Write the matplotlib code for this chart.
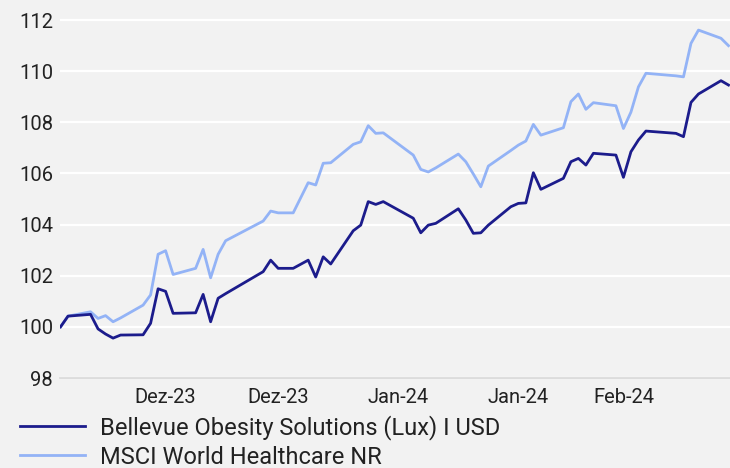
import matplotlib
matplotlib.use("Agg")
import matplotlib.pyplot as plt

# Schriftart
plt.rcParams['font.family'] = ['Roboto', 'DejaVu Sans']

# Daten: Tage seit 30.11.2023 (Handelstage)
days = [0, 1, 4, 5, 6, 7, 8, 11, 12, 13, 14, 15, 18, 19, 20, 21, 22, 27, 28, 29,
        31, 33, 34, 35, 36, 39, 40, 41, 42, 43, 47, 48, 49, 50, 53, 54, 55, 56, 57,
        60, 61, 62, 63, 64, 67, 68, 69, 70, 71, 74, 75, 76, 77, 78, 82, 83, 84, 85,
        88, 89]

fund = [100.0, 100.42, 100.49, 99.92, 99.72, 99.56, 99.68, 99.69, 100.14, 101.49,
        101.39, 100.53, 100.55, 101.27, 100.2, 101.12, 101.3, 102.16, 102.61, 102.29,
        102.29, 102.61, 101.95, 102.74, 102.46, 103.76, 103.98, 104.9, 104.79, 104.9,
        104.25, 103.68, 103.98, 104.05, 104.62, 104.18, 103.66, 103.68, 103.98,
        104.70, 104.83, 104.85, 106.03, 105.38, 105.81, 106.46, 106.59, 106.33, 106.79,
        106.72, 105.85, 106.85, 107.31, 107.66, 107.57, 107.44, 108.78, 109.11,
        109.63, 109.46]

index = [100.0, 100.42, 100.59, 100.33, 100.44, 100.2, 100.35, 100.85, 101.25, 102.84,
         102.98, 102.05, 102.29, 103.03, 101.92, 102.84, 103.37, 104.14, 104.53, 104.46,
         104.46, 105.64, 105.55, 106.4, 106.42, 107.14, 107.24, 107.87, 107.57, 107.59,
         106.72, 106.16, 106.06, 106.22, 106.76, 106.46, 105.98, 105.48, 106.29,
         106.9, 107.11, 107.27, 107.92, 107.5, 107.79, 108.81, 109.11, 108.51, 108.77,
         108.65, 107.76, 108.4, 109.39, 109.92, 109.82, 109.78, 111.09, 111.61,
         111.29, 111.0]

tick_days = [14, 29, 45, 61, 75]
tick_labels = ['Dez-23', 'Dez-23', 'Jan-24', 'Jan-24', 'Feb-24']
y_ticks = [98, 100, 102, 104, 106, 108, 110, 112]

bg = '#f2f2f2'
fig = plt.figure(figsize=(7.3, 4.68), dpi=100, facecolor=bg)
ax = fig.add_axes([60 / 730, 90 / 468, 1 - 60 / 730, (448 - 90 + 5) / 468])
ax.set_facecolor(bg)

ax.plot(days, fund, color='#1c1c8c', linewidth=2.0,
        label='Bellevue Obesity Solutions (Lux) I USD', zorder=3)
ax.plot(days, index, color='#93b3f6', linewidth=2.0,
        label='MSCI World Healthcare NR', zorder=2)

ax.set_xlim(-0.07, 89.2)
ax.set_ylim(98, 112.2)
ax.set_yticks(y_ticks)
ax.set_xticks(tick_days)
ax.set_xticklabels(tick_labels)
ax.grid(axis='y', color='white', linewidth=1.6)
ax.set_axisbelow(True)
ax.tick_params(length=0, labelsize=14.5, colors='#222222')
ax.tick_params(axis='y', pad=5)
ax.tick_params(axis='x', pad=7)
for side in ['top', 'right', 'left']:
    ax.spines[side].set_visible(False)
ax.spines['bottom'].set_color('#d8d8d8')
ax.spines['bottom'].set_linewidth(1.2)

fig.legend(loc='upper left', bbox_to_anchor=(20 / 730, 1 - 415 / 468),
           frameon=False, fontsize=17, handlelength=2.75, handletextpad=0.64,
           borderpad=0, borderaxespad=0, labelspacing=0.24, labelcolor='#222222')

fig.savefig('out.png', dpi=100, facecolor=bg)
